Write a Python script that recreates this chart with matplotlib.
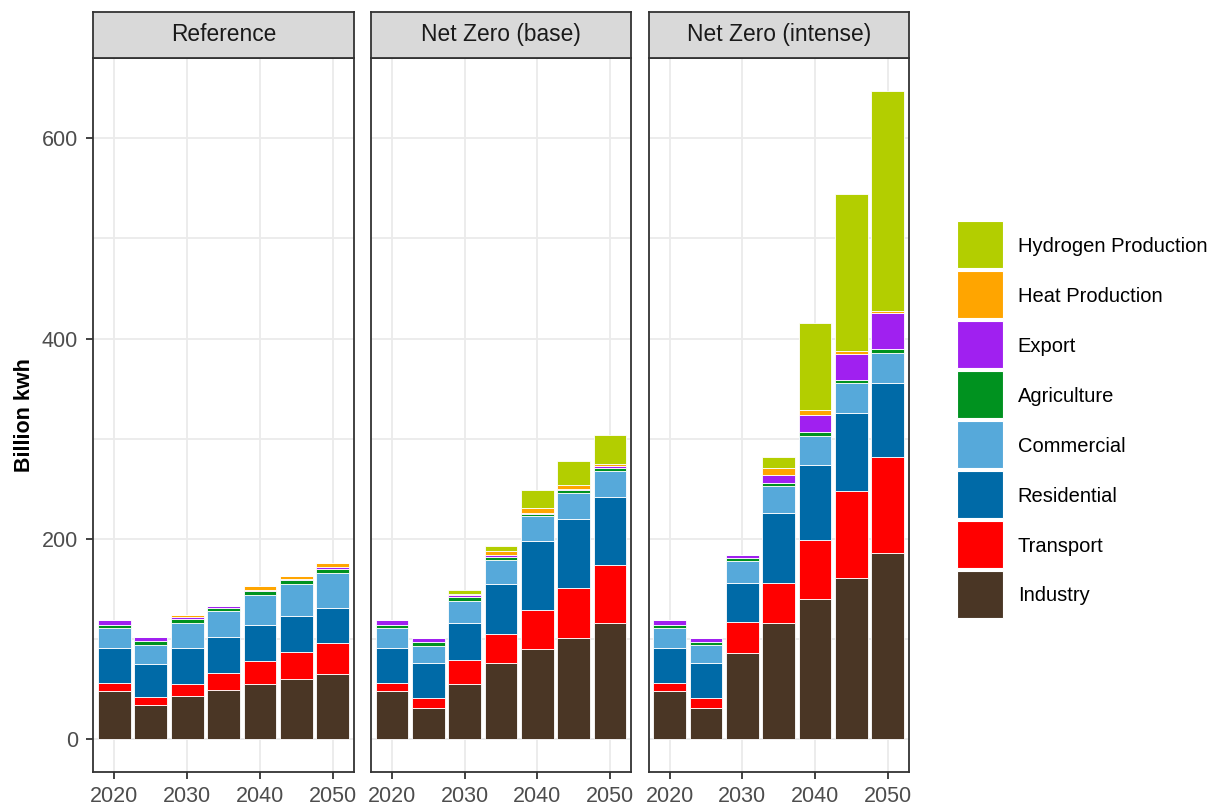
import numpy as np
import matplotlib
matplotlib.use("Agg")
import matplotlib.pyplot as plt
from matplotlib.patches import Patch, Rectangle
from matplotlib.legend_handler import HandlerPatch

plt.rcParams["font.family"] = ["Liberation Sans", "DejaVu Sans"]

years = [2020, 2025, 2030, 2035, 2040, 2045, 2050]
sectors = ["Industry", "Transport", "Residential", "Commercial",
           "Agriculture", "Export", "Heat Production", "Hydrogen Production"]
colors = ["#4A3625", "#FF0000", "#006AA7", "#56A9DA",
          "#00921F", "#A020F0", "#FFA500", "#B3CE00"]
scenarios = ["Reference", "Net Zero (base)", "Net Zero (intense)"]

# billion kWh by sector, one list per sector (same order as `sectors`)
reference = [
    [48, 34, 43, 49.5, 55, 60, 65.5],
    [8, 8, 12.5, 16.5, 23, 27.5, 31],
    [35.5, 33.5, 36, 36, 36, 35.5, 35],
    [19.5, 19, 25, 26, 30, 32, 34.5],
    [3.5, 3.5, 4, 3.5, 3.5, 4, 4],
    [4.5, 4, 1.5, 1.5, 1, 1, 2],
    [0, 0, 2.5, 0, 4.5, 3, 3.5],
    [0, 0, 0, 0, 0, 0, 0],
]
net_zero_base = [
    [48, 31, 55.5, 76.5, 90, 101, 116.5],
    [8, 10.5, 24, 29, 39, 50, 57],
    [35.5, 35, 36.5, 49, 68.5, 68.5, 68.5],
    [19.5, 17, 21.5, 24, 25, 26, 26],
    [3.5, 4, 4, 3.5, 2.5, 3, 2.5],
    [4.5, 3.5, 2.5, 2, 1, 0.8, 2],
    [0, 0, 1, 4, 5, 4.5, 2],
    [0, 0, 4, 4.5, 18, 24, 29],
]
net_zero_intense = [
    [48, 31.5, 86.5, 116, 139.5, 161, 185.5],
    [8, 10, 31, 39.5, 59.5, 87, 96.5],
    [35.5, 35, 38, 70.5, 75, 77.5, 73.5],
    [19.5, 17.5, 22, 26.5, 29, 30, 30],
    [3.5, 3.5, 3.5, 3.5, 3.5, 3.5, 4.5],
    [4.5, 4, 3, 8, 17.5, 25.5, 35],
    [0, 0, 0, 6.5, 4.5, 3.5, 2.5],
    [0, 0, 0, 11, 86.5, 156, 220],
]
panels = [reference, net_zero_base, net_zero_intense]

W, H = 1213, 807
fig = plt.figure(figsize=(W / 100, H / 100), dpi=100)

lefts = [93.4, 370.8, 648.5]
pw = 260.3
p_top, p_bot = 58, 771.7
s_top = 11.7
dark = "#333333"

for i, (name, data) in enumerate(zip(scenarios, panels)):
    ax = fig.add_axes([lefts[i] / W, (H - p_bot) / H, pw / W, (p_bot - p_top) / H])
    bottom = np.zeros(len(years))
    for vals, col in zip(data, colors):
        vals = np.array(vals, dtype=float)
        ax.bar(years, vals, width=4.5, bottom=bottom, color=col,
               edgecolor="white", linewidth=0.6, zorder=3)
        bottom += vals

    ax.set_xlim(2017.1, 2052.9)
    ax.set_ylim(-32.4, 680)
    ax.set_xticks([2020, 2030, 2040, 2050])
    ax.set_yticks([0, 200, 400, 600])
    ax.set_yticks([100, 300, 500], minor=True)
    ax.grid(True, which="major", color="#EBEBEB", linewidth=1.3, zorder=0)
    ax.grid(True, which="minor", axis="y", color="#EBEBEB", linewidth=1.3, zorder=0)
    ax.tick_params(axis="both", which="major", length=5, width=1.3, color=dark,
                   labelsize=15.5, labelcolor="#4D4D4D", pad=5)
    ax.tick_params(axis="y", which="major", pad=6)
    ax.tick_params(axis="y", which="minor", length=0)
    if i > 0:
        ax.tick_params(axis="y", which="major", left=False, labelleft=False)
    for sp in ax.spines.values():
        sp.set_color(dark)
        sp.set_linewidth(1.3)
    ax.set_axisbelow(True)

    # facet strip
    sx = fig.add_axes([lefts[i] / W, (H - p_top) / H, pw / W, (p_top - s_top) / H])
    sx.set_facecolor("#D9D9D9")
    sx.set_xticks([])
    sx.set_yticks([])
    for sp in sx.spines.values():
        sp.set_color(dark)
        sp.set_linewidth(1.3)
    sx.text(0.5, 0.5, name, ha="center", va="center", fontsize=16.4,
            color="#1A1A1A", transform=sx.transAxes)

    if i == 0:
        ax.set_ylabel("Billion kwh", fontsize=15.5, fontweight="bold", labelpad=5)


def square_key(legend, orig_handle, xdescent, ydescent, width, height, fontsize):
    # key fills the row height, centred on the label text
    return Rectangle((-xdescent, 0.36 * fontsize - height / 2), width, height)


handles = [Patch(facecolor=c, edgecolor="white", linewidth=0.8, label=s)
           for s, c in zip(sectors, colors)][::-1]
fig.legend(handles=handles, loc="center left", bbox_to_anchor=(957 / W, 1 - 421 / H),
           frameon=False, fontsize=14.5, handlelength=2.3, handleheight=3.22,
           labelspacing=0.14, handletextpad=0.72, borderpad=0, borderaxespad=0,
           handler_map={Patch: HandlerPatch(patch_func=square_key)})

fig.savefig("out.png", dpi=100)
